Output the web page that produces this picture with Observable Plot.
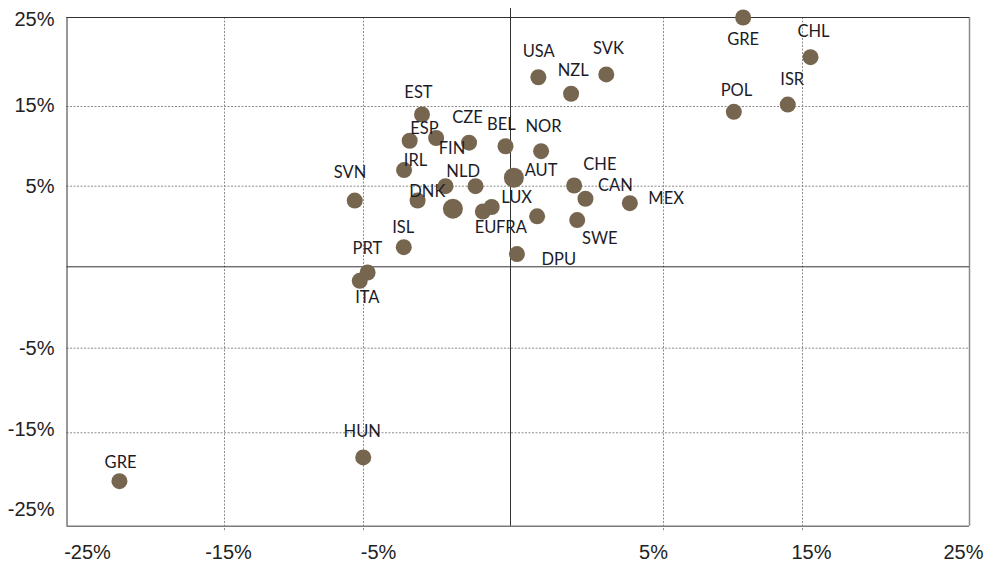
<!DOCTYPE html>
<html>
<head>
<meta charset="utf-8">
<script src="https://cdn.jsdelivr.net/npm/d3@7"></script>
<script src="https://cdn.jsdelivr.net/npm/@observablehq/plot@0.6"></script>
<style>
  html, body { margin: 0; padding: 0; background: #ffffff; }
  #chart { width: 986px; height: 569px; }
</style>
</head>
<body>
<div id="chart"></div>
<script>
// ---- Data (in the units of its axis labels) ----
const countries = ["GRE","CHL","USA","SVK","NZL","POL","ISR","EST","ESP","FIN","CZE","BEL","NOR","IRL","DNK","","NLD","","AUT","SVN","LUX","EU","FRA","CHE","CAN","MEX","SWE","ISL","DPU","PRT","ITA","HUN","GRE"];
const xValues = [10.73,15.48,0.91,3.13,1.98,10.06,13.94,-3.01,-3.43,-2.53,-1.41,-0.17,1.0,-3.62,-3.16,-2.21,-1.19,-1.96,0.11,-5.63,-0.64,-0.94,0.87,2.08,2.45,3.9,2.18,-3.63,0.21,-4.86,-5.27,-5.02,-21.67];
const yValues = [25.0,20.54,18.29,18.6,16.43,14.33,15.22,14.0,10.7,11.05,10.46,10.01,9.39,7.02,4.11,5.0,5.0,3.6,6.07,4.11,3.71,3.43,3.13,5.09,4.22,3.95,2.9,1.22,0.79,-0.35,-0.86,-17.64,-20.18];
// where each country's label sits (same units)
const labelX = [10.73,15.66,0.92,3.2,2.05,10.25,14.26,-3.13,-2.93,-1.99,-1.46,-0.31,1.08,-3.23,-2.83,null,-1.61,null,1.0,-5.97,0.2,-0.85,0.03,2.92,3.43,5.19,2.92,-3.65,1.58,-4.87,-4.87,-5.09,-21.6];
const labelY = [22.49,23.35,21.1,21.48,19.04,16.8,18.0,16.57,12.24,9.73,13.62,12.74,12.49,8.14,4.63,null,6.84,null,6.88,6.63,4.27,2.41,2.41,7.72,5.03,4.24,1.77,2.42,0.43,1.15,-1.89,-14.93,-18.15];

// ---- Axis ticks and labels ----
const xTicks = [-25, -15, -5, 0, 5, 15, 25];
const xTickLabels = ["-25%", "-15%", "-5%", "", "5%", "15%", "25%"];
const yTicks = [-25, -15, -5, 0, 5, 15, 25];
const yTickLabels = ["-25%", "-15%", "-5%", "", "5%", "15%", "25%"];

// ---- Layout: pixel positions of the reference's (unevenly spaced) gridlines ----
const xRange = [66.5, 224, 363, 510, 663, 802, 969];
const yRange = [525.7, 432.3, 347.7, 266.3, 185.7, 106, 17];
const xToPx = d3.scaleLinear().domain(xTicks).range(xRange);
const yToPx = d3.scaleLinear().domain(yTicks).range(yRange);
// horizontal / vertical nudges of each tick label, as placed in the reference
const xLabelNudge = [20.5, 4, 15, 0, -10, 9, -6];
const yLabelNudge = [-17, -3, 0, 0, 0, -1, 2];
const bigMarkerIndex = new Set([17, 18]);

const points = countries.map((name, i) => ({name, x: xValues[i], y: yValues[i], lx: labelX[i], ly: labelY[i], i}));
const normalPts = points.filter(d => !bigMarkerIndex.has(d.i));
const bigPts = points.filter(d => bigMarkerIndex.has(d.i));
const labeled = points.filter(d => d.name !== "");

const innerX = xTicks.filter(v => v !== 0 && v !== xTicks[0] && v !== xTicks[xTicks.length - 1]);
const innerY = yTicks.filter(v => v !== 0 && v !== yTicks[0] && v !== yTicks[yTicks.length - 1]);

const axisFont = "'Liberation Sans', Arial, sans-serif";
const labelFont = "Lato, 'Noto Sans', sans-serif";
const dotColor = "#77664f";
const axisText = {fontSize: 20, fontFamily: axisFont, fill: "#222222"};

const xLabelMarks = xTicks.map((v, i) => xTickLabels[i] === "" ? null :
  Plot.text([{v, label: xTickLabels[i]}], {x: "v", text: "label", frameAnchor: "bottom", dy: 33, dx: xLabelNudge[i], ...axisText}));
const yLabelMarks = yTicks.map((v, i) => yTickLabels[i] === "" ? null :
  Plot.text([{v, label: yTickLabels[i]}], {y: "v", text: "label", frameAnchor: "left", dx: -12.5, dy: yLabelNudge[i], textAnchor: "end", ...axisText}));

const chart = Plot.plot({
  width: 986,
  height: 569,
  marginTop: 17,
  marginBottom: 43.3,
  marginLeft: 66.5,
  marginRight: 17,
  x: {type: "linear", domain: [0, 986], range: [0, 986], transform: xToPx, axis: null},
  y: {type: "linear", domain: [0, 569], range: [0, 569], transform: yToPx, axis: null},
  style: {background: "#ffffff", overflow: "visible"},
  marks: [
    // dotted gridlines
    Plot.ruleX(innerX, {stroke: "#8c8c8c", strokeWidth: 1, strokeDasharray: "2,1.5", insetBottom: -6}),
    Plot.ruleY(innerY, {stroke: "#8c8c8c", strokeWidth: 1, strokeDasharray: "2,1.5"}),
    // frame
    Plot.ruleX([xTicks[xTicks.length - 1]], {stroke: "#8a8a8a", strokeWidth: 1.5}),
    Plot.ruleY([yTicks[0]], {stroke: "#7a7a7a", strokeWidth: 1.5}),
    Plot.ruleX([xTicks[0]], {stroke: "#333333", strokeWidth: 1}),
    Plot.ruleY([yTicks[yTicks.length - 1]], {stroke: "#333333", strokeWidth: 1}),
    // zero lines
    Plot.ruleY([0], {stroke: "#333333", strokeWidth: 1}),
    Plot.ruleX([0], {stroke: "#333333", strokeWidth: 1, insetTop: -9}),
    // points
    Plot.dot(normalPts, {x: "x", y: "y", r: 8, fill: dotColor, stroke: "none"}),
    Plot.dot(bigPts, {x: "x", y: "y", r: 10, fill: dotColor, stroke: "none"}),
    // country labels
    Plot.text(labeled, {x: "lx", y: "ly", text: "name", fontSize: 16.5, fontFamily: labelFont, fill: "#1c1c28"}),
    // tick labels
    ...xLabelMarks.filter(Boolean),
    ...yLabelMarks.filter(Boolean)
  ]
});

document.getElementById("chart").appendChild(chart);
</script>
</body>
</html>
